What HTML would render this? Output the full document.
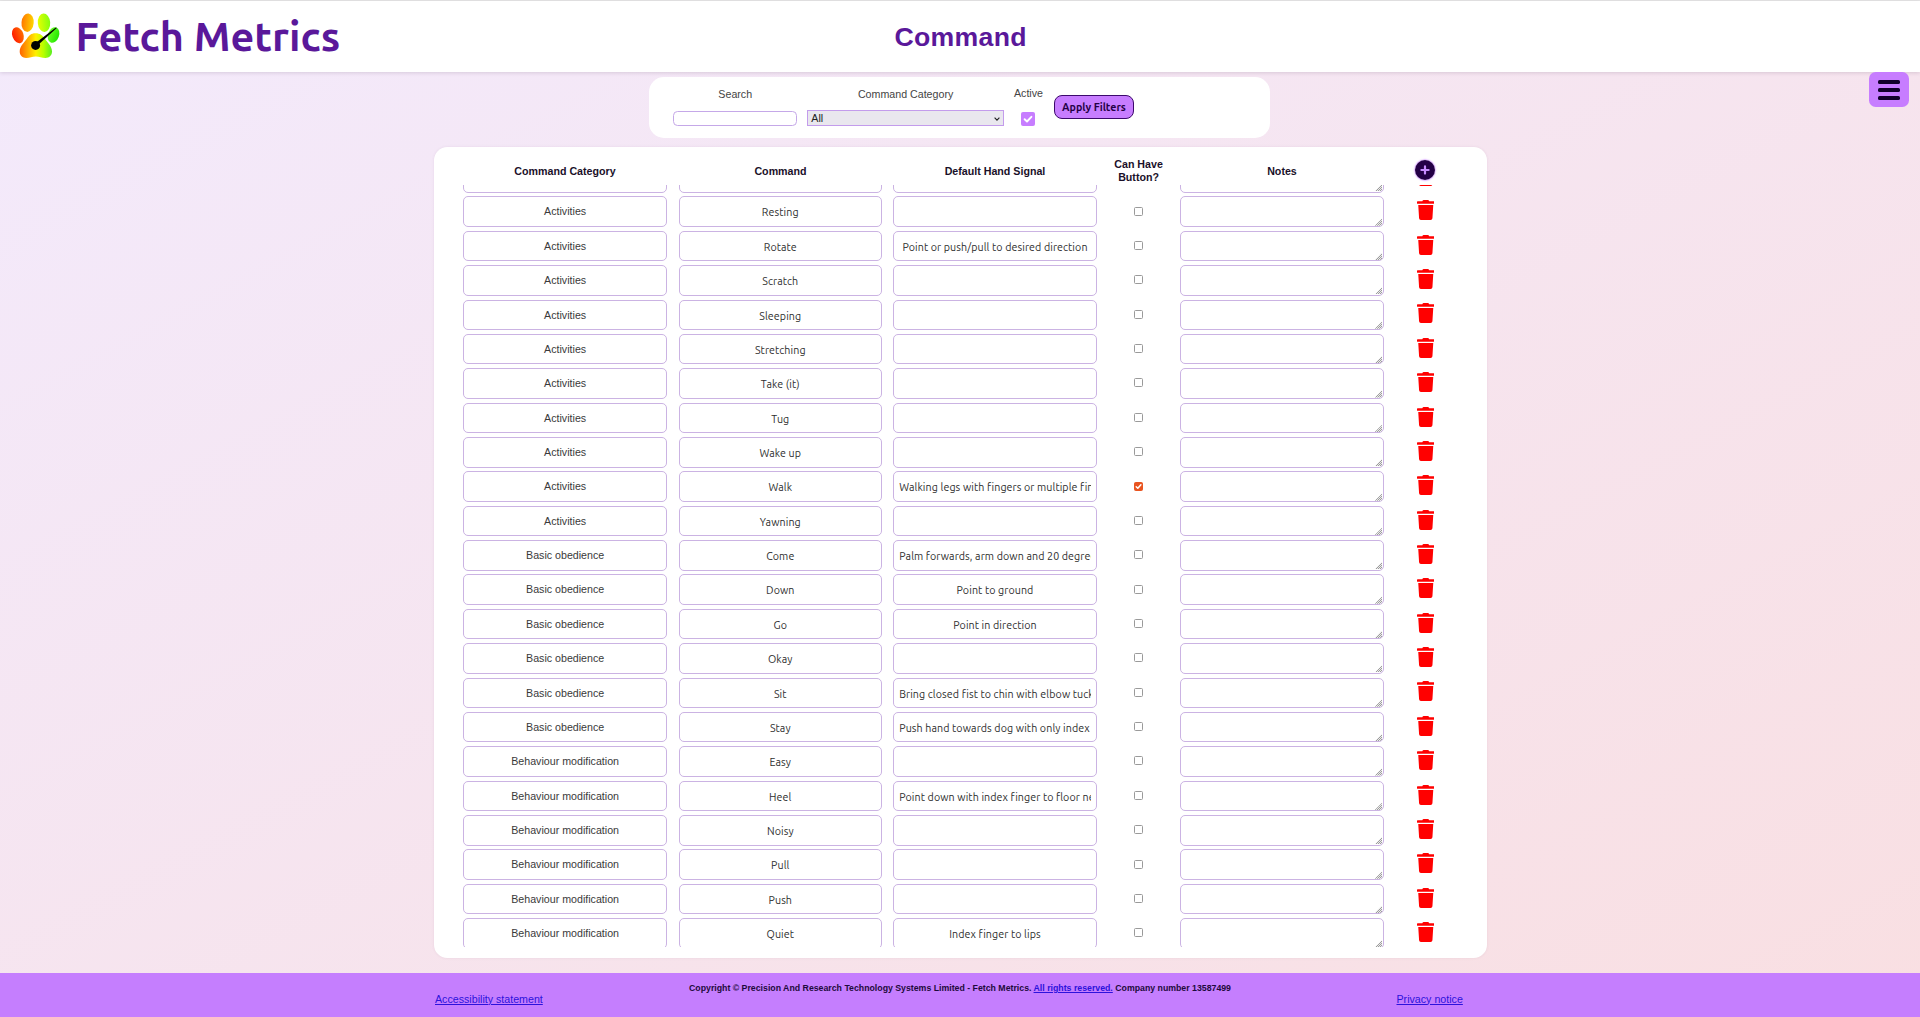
<!DOCTYPE html>
<html lang="en"><head><meta charset="utf-8"><title>Command - Fetch Metrics</title>
<style>
*{box-sizing:border-box}
html,body{margin:0;padding:0}
body{width:1920px;height:1017px;overflow:hidden;position:relative;
 background:linear-gradient(to bottom right,#f3eafc,#f9dfe2);
 font-family:"Liberation Sans",Arial,sans-serif;font-size:10.67px;color:#222}
.topline{position:absolute;left:0;top:0;width:1920px;height:1px;background:#e6e6e6}
.hdr{position:absolute;left:0;top:1px;width:1920px;height:71px;background:#fff;box-shadow:0 1px 4px rgba(60,40,70,0.16)}
.logo{position:absolute;left:0;top:0}
.brand{position:absolute;left:75.6px;top:14.9px;font-family:"Ubuntu","Liberation Sans",sans-serif;font-weight:700;font-size:41.3px;line-height:41.3px;color:#5a189a;white-space:nowrap}
.title{position:absolute;left:760.5px;width:400px;text-align:center;top:22.6px;font-family:"Liberation Sans",Arial,sans-serif;font-weight:700;font-size:26.67px;line-height:26.67px;letter-spacing:0.3px;text-indent:0.3px;color:#5a189a}
.burger{position:absolute;left:1869.2px;top:72.1px;width:39.8px;height:34.8px;border-radius:6.7px;background:#c77dff}
.burger i{position:absolute;left:8.8px;width:22.2px;height:3.2px;border-radius:1.6px;background:#10002b}
.fpanel{position:absolute;left:648.8px;top:77.4px;width:621.2px;height:60.8px;border-radius:15px;background:#fff}
.flbl{position:absolute;top:0;text-align:center;font-size:10.67px;line-height:12px;color:#444;white-space:nowrap}
.finput{position:absolute;border:1px solid #c5a8e8;border-radius:4.5px;background:#fff}
.fsel{position:absolute;border:1px solid #c39cec;background:#e9e7ee;font-size:10.67px;color:#222}
.fchk{position:absolute;width:14px;height:14px;border-radius:2px;background:#c77dff}
.fbtn{position:absolute;border:1px solid #3c096c;border-radius:8px;background:#c77dff;color:#240046;font-family:"Ubuntu","Liberation Sans",sans-serif;font-weight:700;font-size:10.67px;text-align:center}
.card{position:absolute;left:433.7px;top:147px;width:1053.2px;height:810.8px;border-radius:13.33px;background:#fff;box-shadow:0 0 3px rgba(120,80,120,0.10)}
.th{position:absolute;text-align:center;font-weight:700;font-size:10.67px;line-height:12.26px;color:#1a1029;white-space:nowrap}
.plus{position:absolute;left:981.7px;top:12.8px;width:20px;height:20px;border-radius:50%;box-shadow:0 0 1.5px 0.5px #c77dff}
.plus svg{display:block}
.clip{position:absolute;left:0;width:100%;overflow:hidden}
.bx{position:absolute;height:30.6px;border:1px solid #cbb3e3;border-radius:5px;background:#fff;text-align:center;font-size:10.67px;line-height:28px;color:#3a3a3a;white-space:nowrap;overflow:hidden}
.ub{font-family:"Ubuntu","Liberation Sans",sans-serif;color:#2e2e2e}
.in{position:absolute;left:4.9px;right:4.9px;top:0;bottom:0;overflow:hidden;line-height:28.6px}
.ub .in{line-height:31.4px;letter-spacing:0.1px}
.ta i{position:absolute;right:0.5px;bottom:0.3px;width:7.5px;height:7.5px;background:repeating-conic-gradient(#9c9c9c 0 25%,#ececec 0 50%) 0 0/2px 2px;clip-path:polygon(100% 0,100% 100%,0 100%)}
.cb{position:absolute;width:9px;height:9px;border:1px solid #9a9a9a;border-radius:1.5px;background:#fff}
.cb.on{background:#e95420;border-color:#e95420}
.tr{position:absolute;line-height:0}
.tr svg{display:block}
.ftr{position:absolute;left:0;top:973px;width:1920px;height:44px;background:#c57efe}
.ftr a{position:absolute;color:#2d12dc;text-decoration:underline;font-size:10.67px;white-space:nowrap}
.copy{position:absolute;font-weight:700;font-size:8.76px;color:#1e0a3c;white-space:nowrap}
.copy a{position:static;font-size:8.76px}

</style></head>
<body>
<div class="topline"></div>
<div class="hdr">
<svg class="logo" width="72" height="70" viewBox="0 -0.2 72 70" style="top:-1px">
<defs>
<linearGradient id="g1"><stop offset="0" stop-color="#ff1a00"/><stop offset="1" stop-color="#ff6c00"/></linearGradient>
<linearGradient id="g2"><stop offset="0" stop-color="#ff7800"/><stop offset="1" stop-color="#ffd600"/></linearGradient>
<linearGradient id="g3"><stop offset="0" stop-color="#e6ff00"/><stop offset="1" stop-color="#84ff10"/></linearGradient>
<linearGradient id="g4"><stop offset="0" stop-color="#6cff24"/><stop offset="1" stop-color="#22e600"/></linearGradient>
<linearGradient id="g5"><stop offset="0" stop-color="#ff6400"/><stop offset="0.5" stop-color="#fff000"/><stop offset="0.74" stop-color="#b6ff00"/><stop offset="1" stop-color="#58ee20"/></linearGradient>
</defs>
<ellipse cx="17.9" cy="35" rx="5.6" ry="8.2" transform="rotate(-20 17.9 35)" fill="url(#g1)"/>
<ellipse cx="27.6" cy="22.5" rx="6.1" ry="9.2" transform="rotate(5 27.6 22.5)" fill="url(#g2)"/>
<ellipse cx="44.0" cy="22.5" rx="6.2" ry="9.2" transform="rotate(-4 44.0 22.5)" fill="url(#g3)"/>
<ellipse cx="53.5" cy="34.8" rx="5.5" ry="8.1" transform="rotate(20 53.5 34.8)" fill="url(#g4)"/>
<path fill="url(#g5)" d="M35.5 33.1C40 33.1 42.5 35.2 44.8 38.6C47.3 42.2 52 46 52 51.4C52 55.5 49 57.8 45.5 57.8C41.6 57.8 39.5 56.3 35.8 56.3C32 56.3 30 57.8 26.1 57.8C22.6 57.8 19.7 55.5 19.7 51.4C19.7 46 24.4 42.2 26.9 38.6C29.2 35.2 31 33.1 35.5 33.1Z"/>
<path d="M34.3 43.8L55.9 27.4Q56.7 27.1 56.5 28.0L36.4 46.2Z" fill="#000"/>
<circle cx="35.6" cy="45.2" r="4.5" fill="#000"/>
</svg>
<div class="brand">Fetch Metrics</div>
<div class="title">Command</div>
</div>
<div class="burger"><i style="top:8.3px"></i><i style="top:16.3px"></i><i style="top:24.3px"></i></div>
<div class="fpanel">
<div class="flbl" style="left:36.45px;width:100px;top:10.3px">Search</div>
<div class="flbl" style="left:206.8px;width:100px;top:10.3px">Command Category</div>
<div class="flbl" style="left:349.7px;width:60px;top:9.6px">Active</div>
<div class="finput" style="left:24.5px;top:33.6px;width:123.4px;height:14.6px"></div>
<div class="fsel" style="left:158.5px;top:32.9px;width:196.4px;height:16px"><span style="position:absolute;left:3px;top:1px;line-height:12px">All</span><svg style="position:absolute;right:2.6px;top:5.4px" width="6" height="4" viewBox="0 0 6 4"><path d="M0.6 0.7L3 3.1L5.4 0.7" stroke="#222" stroke-width="1.15" fill="none"/></svg></div>
<div class="fchk" style="left:372.5px;top:34.5px"><svg width="14" height="14" viewBox="0 0 14 14" style="display:block"><path d="M3.6 7.2L6 9.5L10.4 4.8" stroke="#fff" stroke-width="1.9" fill="none" stroke-linecap="round" stroke-linejoin="round"/></svg></div>
<div class="fbtn" style="left:405.4px;top:17.4px;width:79.6px;height:23.9px;line-height:23.2px">Apply Filters</div>
</div>

<div class="card">
<div class="th" style="left:71.30000000000001px;width:120px;top:18px">Command Category</div>
<div class="th" style="left:286.8px;width:120px;top:18px">Command</div>
<div class="th" style="left:501.29999999999995px;width:120px;top:18px">Default Hand Signal</div>
<div class="th" style="left:664.8999999999999px;width:80px;top:11.2px;line-height:12.8px">Can Have<br>Button?</div>
<div class="th" style="left:788.3px;width:120px;top:18px">Notes</div>
<div class="plus"><svg viewBox="0 0 20 20" width="20" height="20"><circle cx="10" cy="10" r="10" fill="#240046"/><path d="M10 6.4v7.2M6.4 10h7.2" stroke="#c98cff" stroke-width="2.2" stroke-linecap="round"/></svg></div>
<div class="clip" style="top:38px;height:762px">
<div class="bx cat" style="top:-22.97px;left:29.63px;width:203.67px"><div class="in">Activities</div></div>
<div class="bx ub" style="top:-22.97px;left:245.10px;width:203.00px"><div class="in">Play</div></div>
<div class="bx ub hs" style="top:-22.97px;left:459.60px;width:203.40px"><div class="in"></div></div>
<div class="cb" style="top:-12.77px;left:700.40px"></div>
<div class="bx ta" style="top:-22.97px;left:746.70px;width:203.30px"><i></i></div>
<div class="tr" style="top:-19.07px;left:983.10px"><svg viewBox="0 0 448 512" width="17.5" height="20"><path fill="#ff0000" d="M432 32H312l-9.4-18.7A24 24 0 0 0 281.1 0H166.8a23.72 23.72 0 0 0-21.4 13.3L136 32H16A16 16 0 0 0 0 48v32a16 16 0 0 0 16 16h416a16 16 0 0 0 16-16V48a16 16 0 0 0-16-16zM53.2 467a48 48 0 0 0 47.9 45h245.8a48 48 0 0 0 47.9-45L416 128H32z"/></svg></div>
<div class="bx cat" style="top:11.40px;left:29.63px;width:203.67px"><div class="in">Activities</div></div>
<div class="bx ub" style="top:11.40px;left:245.10px;width:203.00px"><div class="in">Resting</div></div>
<div class="bx ub hs" style="top:11.40px;left:459.60px;width:203.40px"><div class="in"></div></div>
<div class="cb" style="top:21.60px;left:700.40px"></div>
<div class="bx ta" style="top:11.40px;left:746.70px;width:203.30px"><i></i></div>
<div class="tr" style="top:15.30px;left:983.10px"><svg viewBox="0 0 448 512" width="17.5" height="20"><path fill="#ff0000" d="M432 32H312l-9.4-18.7A24 24 0 0 0 281.1 0H166.8a23.72 23.72 0 0 0-21.4 13.3L136 32H16A16 16 0 0 0 0 48v32a16 16 0 0 0 16 16h416a16 16 0 0 0 16-16V48a16 16 0 0 0-16-16zM53.2 467a48 48 0 0 0 47.9 45h245.8a48 48 0 0 0 47.9-45L416 128H32z"/></svg></div>
<div class="bx cat" style="top:45.77px;left:29.63px;width:203.67px"><div class="in">Activities</div></div>
<div class="bx ub" style="top:45.77px;left:245.10px;width:203.00px"><div class="in">Rotate</div></div>
<div class="bx ub hs" style="top:45.77px;left:459.60px;width:203.40px"><div class="in">Point or push/pull to desired direction</div></div>
<div class="cb" style="top:55.97px;left:700.40px"></div>
<div class="bx ta" style="top:45.77px;left:746.70px;width:203.30px"><i></i></div>
<div class="tr" style="top:49.67px;left:983.10px"><svg viewBox="0 0 448 512" width="17.5" height="20"><path fill="#ff0000" d="M432 32H312l-9.4-18.7A24 24 0 0 0 281.1 0H166.8a23.72 23.72 0 0 0-21.4 13.3L136 32H16A16 16 0 0 0 0 48v32a16 16 0 0 0 16 16h416a16 16 0 0 0 16-16V48a16 16 0 0 0-16-16zM53.2 467a48 48 0 0 0 47.9 45h245.8a48 48 0 0 0 47.9-45L416 128H32z"/></svg></div>
<div class="bx cat" style="top:80.13px;left:29.63px;width:203.67px"><div class="in">Activities</div></div>
<div class="bx ub" style="top:80.13px;left:245.10px;width:203.00px"><div class="in">Scratch</div></div>
<div class="bx ub hs" style="top:80.13px;left:459.60px;width:203.40px"><div class="in"></div></div>
<div class="cb" style="top:90.33px;left:700.40px"></div>
<div class="bx ta" style="top:80.13px;left:746.70px;width:203.30px"><i></i></div>
<div class="tr" style="top:84.03px;left:983.10px"><svg viewBox="0 0 448 512" width="17.5" height="20"><path fill="#ff0000" d="M432 32H312l-9.4-18.7A24 24 0 0 0 281.1 0H166.8a23.72 23.72 0 0 0-21.4 13.3L136 32H16A16 16 0 0 0 0 48v32a16 16 0 0 0 16 16h416a16 16 0 0 0 16-16V48a16 16 0 0 0-16-16zM53.2 467a48 48 0 0 0 47.9 45h245.8a48 48 0 0 0 47.9-45L416 128H32z"/></svg></div>
<div class="bx cat" style="top:114.50px;left:29.63px;width:203.67px"><div class="in">Activities</div></div>
<div class="bx ub" style="top:114.50px;left:245.10px;width:203.00px"><div class="in">Sleeping</div></div>
<div class="bx ub hs" style="top:114.50px;left:459.60px;width:203.40px"><div class="in"></div></div>
<div class="cb" style="top:124.70px;left:700.40px"></div>
<div class="bx ta" style="top:114.50px;left:746.70px;width:203.30px"><i></i></div>
<div class="tr" style="top:118.40px;left:983.10px"><svg viewBox="0 0 448 512" width="17.5" height="20"><path fill="#ff0000" d="M432 32H312l-9.4-18.7A24 24 0 0 0 281.1 0H166.8a23.72 23.72 0 0 0-21.4 13.3L136 32H16A16 16 0 0 0 0 48v32a16 16 0 0 0 16 16h416a16 16 0 0 0 16-16V48a16 16 0 0 0-16-16zM53.2 467a48 48 0 0 0 47.9 45h245.8a48 48 0 0 0 47.9-45L416 128H32z"/></svg></div>
<div class="bx cat" style="top:148.86px;left:29.63px;width:203.67px"><div class="in">Activities</div></div>
<div class="bx ub" style="top:148.86px;left:245.10px;width:203.00px"><div class="in">Stretching</div></div>
<div class="bx ub hs" style="top:148.86px;left:459.60px;width:203.40px"><div class="in"></div></div>
<div class="cb" style="top:159.06px;left:700.40px"></div>
<div class="bx ta" style="top:148.86px;left:746.70px;width:203.30px"><i></i></div>
<div class="tr" style="top:152.76px;left:983.10px"><svg viewBox="0 0 448 512" width="17.5" height="20"><path fill="#ff0000" d="M432 32H312l-9.4-18.7A24 24 0 0 0 281.1 0H166.8a23.72 23.72 0 0 0-21.4 13.3L136 32H16A16 16 0 0 0 0 48v32a16 16 0 0 0 16 16h416a16 16 0 0 0 16-16V48a16 16 0 0 0-16-16zM53.2 467a48 48 0 0 0 47.9 45h245.8a48 48 0 0 0 47.9-45L416 128H32z"/></svg></div>
<div class="bx cat" style="top:183.23px;left:29.63px;width:203.67px"><div class="in">Activities</div></div>
<div class="bx ub" style="top:183.23px;left:245.10px;width:203.00px"><div class="in">Take (it)</div></div>
<div class="bx ub hs" style="top:183.23px;left:459.60px;width:203.40px"><div class="in"></div></div>
<div class="cb" style="top:193.43px;left:700.40px"></div>
<div class="bx ta" style="top:183.23px;left:746.70px;width:203.30px"><i></i></div>
<div class="tr" style="top:187.13px;left:983.10px"><svg viewBox="0 0 448 512" width="17.5" height="20"><path fill="#ff0000" d="M432 32H312l-9.4-18.7A24 24 0 0 0 281.1 0H166.8a23.72 23.72 0 0 0-21.4 13.3L136 32H16A16 16 0 0 0 0 48v32a16 16 0 0 0 16 16h416a16 16 0 0 0 16-16V48a16 16 0 0 0-16-16zM53.2 467a48 48 0 0 0 47.9 45h245.8a48 48 0 0 0 47.9-45L416 128H32z"/></svg></div>
<div class="bx cat" style="top:217.60px;left:29.63px;width:203.67px"><div class="in">Activities</div></div>
<div class="bx ub" style="top:217.60px;left:245.10px;width:203.00px"><div class="in">Tug</div></div>
<div class="bx ub hs" style="top:217.60px;left:459.60px;width:203.40px"><div class="in"></div></div>
<div class="cb" style="top:227.80px;left:700.40px"></div>
<div class="bx ta" style="top:217.60px;left:746.70px;width:203.30px"><i></i></div>
<div class="tr" style="top:221.50px;left:983.10px"><svg viewBox="0 0 448 512" width="17.5" height="20"><path fill="#ff0000" d="M432 32H312l-9.4-18.7A24 24 0 0 0 281.1 0H166.8a23.72 23.72 0 0 0-21.4 13.3L136 32H16A16 16 0 0 0 0 48v32a16 16 0 0 0 16 16h416a16 16 0 0 0 16-16V48a16 16 0 0 0-16-16zM53.2 467a48 48 0 0 0 47.9 45h245.8a48 48 0 0 0 47.9-45L416 128H32z"/></svg></div>
<div class="bx cat" style="top:251.96px;left:29.63px;width:203.67px"><div class="in">Activities</div></div>
<div class="bx ub" style="top:251.96px;left:245.10px;width:203.00px"><div class="in">Wake up</div></div>
<div class="bx ub hs" style="top:251.96px;left:459.60px;width:203.40px"><div class="in"></div></div>
<div class="cb" style="top:262.16px;left:700.40px"></div>
<div class="bx ta" style="top:251.96px;left:746.70px;width:203.30px"><i></i></div>
<div class="tr" style="top:255.86px;left:983.10px"><svg viewBox="0 0 448 512" width="17.5" height="20"><path fill="#ff0000" d="M432 32H312l-9.4-18.7A24 24 0 0 0 281.1 0H166.8a23.72 23.72 0 0 0-21.4 13.3L136 32H16A16 16 0 0 0 0 48v32a16 16 0 0 0 16 16h416a16 16 0 0 0 16-16V48a16 16 0 0 0-16-16zM53.2 467a48 48 0 0 0 47.9 45h245.8a48 48 0 0 0 47.9-45L416 128H32z"/></svg></div>
<div class="bx cat" style="top:286.33px;left:29.63px;width:203.67px"><div class="in">Activities</div></div>
<div class="bx ub" style="top:286.33px;left:245.10px;width:203.00px"><div class="in">Walk</div></div>
<div class="bx ub hs" style="top:286.33px;left:459.60px;width:203.40px"><div class="in">Walking legs with fingers or multiple fingers</div></div>
<div class="cb on" style="top:296.53px;left:700.40px"><svg width="9" height="9" viewBox="0 0 9 9" style="position:absolute;left:-1px;top:-1px"><path d="M2.2 4.7L3.8 6.3L6.9 2.7" stroke="#fff" stroke-width="1.5" fill="none" stroke-linecap="round" stroke-linejoin="round"/></svg></div>
<div class="bx ta" style="top:286.33px;left:746.70px;width:203.30px"><i></i></div>
<div class="tr" style="top:290.23px;left:983.10px"><svg viewBox="0 0 448 512" width="17.5" height="20"><path fill="#ff0000" d="M432 32H312l-9.4-18.7A24 24 0 0 0 281.1 0H166.8a23.72 23.72 0 0 0-21.4 13.3L136 32H16A16 16 0 0 0 0 48v32a16 16 0 0 0 16 16h416a16 16 0 0 0 16-16V48a16 16 0 0 0-16-16zM53.2 467a48 48 0 0 0 47.9 45h245.8a48 48 0 0 0 47.9-45L416 128H32z"/></svg></div>
<div class="bx cat" style="top:320.69px;left:29.63px;width:203.67px"><div class="in">Activities</div></div>
<div class="bx ub" style="top:320.69px;left:245.10px;width:203.00px"><div class="in">Yawning</div></div>
<div class="bx ub hs" style="top:320.69px;left:459.60px;width:203.40px"><div class="in"></div></div>
<div class="cb" style="top:330.89px;left:700.40px"></div>
<div class="bx ta" style="top:320.69px;left:746.70px;width:203.30px"><i></i></div>
<div class="tr" style="top:324.59px;left:983.10px"><svg viewBox="0 0 448 512" width="17.5" height="20"><path fill="#ff0000" d="M432 32H312l-9.4-18.7A24 24 0 0 0 281.1 0H166.8a23.72 23.72 0 0 0-21.4 13.3L136 32H16A16 16 0 0 0 0 48v32a16 16 0 0 0 16 16h416a16 16 0 0 0 16-16V48a16 16 0 0 0-16-16zM53.2 467a48 48 0 0 0 47.9 45h245.8a48 48 0 0 0 47.9-45L416 128H32z"/></svg></div>
<div class="bx cat" style="top:355.06px;left:29.63px;width:203.67px"><div class="in">Basic obedience</div></div>
<div class="bx ub" style="top:355.06px;left:245.10px;width:203.00px"><div class="in">Come</div></div>
<div class="bx ub hs" style="top:355.06px;left:459.60px;width:203.40px"><div class="in">Palm forwards, arm down and 20 degrees out</div></div>
<div class="cb" style="top:365.26px;left:700.40px"></div>
<div class="bx ta" style="top:355.06px;left:746.70px;width:203.30px"><i></i></div>
<div class="tr" style="top:358.96px;left:983.10px"><svg viewBox="0 0 448 512" width="17.5" height="20"><path fill="#ff0000" d="M432 32H312l-9.4-18.7A24 24 0 0 0 281.1 0H166.8a23.72 23.72 0 0 0-21.4 13.3L136 32H16A16 16 0 0 0 0 48v32a16 16 0 0 0 16 16h416a16 16 0 0 0 16-16V48a16 16 0 0 0-16-16zM53.2 467a48 48 0 0 0 47.9 45h245.8a48 48 0 0 0 47.9-45L416 128H32z"/></svg></div>
<div class="bx cat" style="top:389.43px;left:29.63px;width:203.67px"><div class="in">Basic obedience</div></div>
<div class="bx ub" style="top:389.43px;left:245.10px;width:203.00px"><div class="in">Down</div></div>
<div class="bx ub hs" style="top:389.43px;left:459.60px;width:203.40px"><div class="in">Point to ground</div></div>
<div class="cb" style="top:399.63px;left:700.40px"></div>
<div class="bx ta" style="top:389.43px;left:746.70px;width:203.30px"><i></i></div>
<div class="tr" style="top:393.33px;left:983.10px"><svg viewBox="0 0 448 512" width="17.5" height="20"><path fill="#ff0000" d="M432 32H312l-9.4-18.7A24 24 0 0 0 281.1 0H166.8a23.72 23.72 0 0 0-21.4 13.3L136 32H16A16 16 0 0 0 0 48v32a16 16 0 0 0 16 16h416a16 16 0 0 0 16-16V48a16 16 0 0 0-16-16zM53.2 467a48 48 0 0 0 47.9 45h245.8a48 48 0 0 0 47.9-45L416 128H32z"/></svg></div>
<div class="bx cat" style="top:423.79px;left:29.63px;width:203.67px"><div class="in">Basic obedience</div></div>
<div class="bx ub" style="top:423.79px;left:245.10px;width:203.00px"><div class="in">Go</div></div>
<div class="bx ub hs" style="top:423.79px;left:459.60px;width:203.40px"><div class="in">Point in direction</div></div>
<div class="cb" style="top:433.99px;left:700.40px"></div>
<div class="bx ta" style="top:423.79px;left:746.70px;width:203.30px"><i></i></div>
<div class="tr" style="top:427.69px;left:983.10px"><svg viewBox="0 0 448 512" width="17.5" height="20"><path fill="#ff0000" d="M432 32H312l-9.4-18.7A24 24 0 0 0 281.1 0H166.8a23.72 23.72 0 0 0-21.4 13.3L136 32H16A16 16 0 0 0 0 48v32a16 16 0 0 0 16 16h416a16 16 0 0 0 16-16V48a16 16 0 0 0-16-16zM53.2 467a48 48 0 0 0 47.9 45h245.8a48 48 0 0 0 47.9-45L416 128H32z"/></svg></div>
<div class="bx cat" style="top:458.16px;left:29.63px;width:203.67px"><div class="in">Basic obedience</div></div>
<div class="bx ub" style="top:458.16px;left:245.10px;width:203.00px"><div class="in">Okay</div></div>
<div class="bx ub hs" style="top:458.16px;left:459.60px;width:203.40px"><div class="in"></div></div>
<div class="cb" style="top:468.36px;left:700.40px"></div>
<div class="bx ta" style="top:458.16px;left:746.70px;width:203.30px"><i></i></div>
<div class="tr" style="top:462.06px;left:983.10px"><svg viewBox="0 0 448 512" width="17.5" height="20"><path fill="#ff0000" d="M432 32H312l-9.4-18.7A24 24 0 0 0 281.1 0H166.8a23.72 23.72 0 0 0-21.4 13.3L136 32H16A16 16 0 0 0 0 48v32a16 16 0 0 0 16 16h416a16 16 0 0 0 16-16V48a16 16 0 0 0-16-16zM53.2 467a48 48 0 0 0 47.9 45h245.8a48 48 0 0 0 47.9-45L416 128H32z"/></svg></div>
<div class="bx cat" style="top:492.52px;left:29.63px;width:203.67px"><div class="in">Basic obedience</div></div>
<div class="bx ub" style="top:492.52px;left:245.10px;width:203.00px"><div class="in">Sit</div></div>
<div class="bx ub hs" style="top:492.52px;left:459.60px;width:203.40px"><div class="in">Bring closed fist to chin with elbow tucked in</div></div>
<div class="cb" style="top:502.72px;left:700.40px"></div>
<div class="bx ta" style="top:492.52px;left:746.70px;width:203.30px"><i></i></div>
<div class="tr" style="top:496.42px;left:983.10px"><svg viewBox="0 0 448 512" width="17.5" height="20"><path fill="#ff0000" d="M432 32H312l-9.4-18.7A24 24 0 0 0 281.1 0H166.8a23.72 23.72 0 0 0-21.4 13.3L136 32H16A16 16 0 0 0 0 48v32a16 16 0 0 0 16 16h416a16 16 0 0 0 16-16V48a16 16 0 0 0-16-16zM53.2 467a48 48 0 0 0 47.9 45h245.8a48 48 0 0 0 47.9-45L416 128H32z"/></svg></div>
<div class="bx cat" style="top:526.89px;left:29.63px;width:203.67px"><div class="in">Basic obedience</div></div>
<div class="bx ub" style="top:526.89px;left:245.10px;width:203.00px"><div class="in">Stay</div></div>
<div class="bx ub hs" style="top:526.89px;left:459.60px;width:203.40px"><div class="in">Push hand towards dog with only index finger up</div></div>
<div class="cb" style="top:537.09px;left:700.40px"></div>
<div class="bx ta" style="top:526.89px;left:746.70px;width:203.30px"><i></i></div>
<div class="tr" style="top:530.79px;left:983.10px"><svg viewBox="0 0 448 512" width="17.5" height="20"><path fill="#ff0000" d="M432 32H312l-9.4-18.7A24 24 0 0 0 281.1 0H166.8a23.72 23.72 0 0 0-21.4 13.3L136 32H16A16 16 0 0 0 0 48v32a16 16 0 0 0 16 16h416a16 16 0 0 0 16-16V48a16 16 0 0 0-16-16zM53.2 467a48 48 0 0 0 47.9 45h245.8a48 48 0 0 0 47.9-45L416 128H32z"/></svg></div>
<div class="bx cat" style="top:561.26px;left:29.63px;width:203.67px"><div class="in">Behaviour modification</div></div>
<div class="bx ub" style="top:561.26px;left:245.10px;width:203.00px"><div class="in">Easy</div></div>
<div class="bx ub hs" style="top:561.26px;left:459.60px;width:203.40px"><div class="in"></div></div>
<div class="cb" style="top:571.46px;left:700.40px"></div>
<div class="bx ta" style="top:561.26px;left:746.70px;width:203.30px"><i></i></div>
<div class="tr" style="top:565.16px;left:983.10px"><svg viewBox="0 0 448 512" width="17.5" height="20"><path fill="#ff0000" d="M432 32H312l-9.4-18.7A24 24 0 0 0 281.1 0H166.8a23.72 23.72 0 0 0-21.4 13.3L136 32H16A16 16 0 0 0 0 48v32a16 16 0 0 0 16 16h416a16 16 0 0 0 16-16V48a16 16 0 0 0-16-16zM53.2 467a48 48 0 0 0 47.9 45h245.8a48 48 0 0 0 47.9-45L416 128H32z"/></svg></div>
<div class="bx cat" style="top:595.62px;left:29.63px;width:203.67px"><div class="in">Behaviour modification</div></div>
<div class="bx ub" style="top:595.62px;left:245.10px;width:203.00px"><div class="in">Heel</div></div>
<div class="bx ub hs" style="top:595.62px;left:459.60px;width:203.40px"><div class="in">Point down with index finger to floor next to leg</div></div>
<div class="cb" style="top:605.82px;left:700.40px"></div>
<div class="bx ta" style="top:595.62px;left:746.70px;width:203.30px"><i></i></div>
<div class="tr" style="top:599.52px;left:983.10px"><svg viewBox="0 0 448 512" width="17.5" height="20"><path fill="#ff0000" d="M432 32H312l-9.4-18.7A24 24 0 0 0 281.1 0H166.8a23.72 23.72 0 0 0-21.4 13.3L136 32H16A16 16 0 0 0 0 48v32a16 16 0 0 0 16 16h416a16 16 0 0 0 16-16V48a16 16 0 0 0-16-16zM53.2 467a48 48 0 0 0 47.9 45h245.8a48 48 0 0 0 47.9-45L416 128H32z"/></svg></div>
<div class="bx cat" style="top:629.99px;left:29.63px;width:203.67px"><div class="in">Behaviour modification</div></div>
<div class="bx ub" style="top:629.99px;left:245.10px;width:203.00px"><div class="in">Noisy</div></div>
<div class="bx ub hs" style="top:629.99px;left:459.60px;width:203.40px"><div class="in"></div></div>
<div class="cb" style="top:640.19px;left:700.40px"></div>
<div class="bx ta" style="top:629.99px;left:746.70px;width:203.30px"><i></i></div>
<div class="tr" style="top:633.89px;left:983.10px"><svg viewBox="0 0 448 512" width="17.5" height="20"><path fill="#ff0000" d="M432 32H312l-9.4-18.7A24 24 0 0 0 281.1 0H166.8a23.72 23.72 0 0 0-21.4 13.3L136 32H16A16 16 0 0 0 0 48v32a16 16 0 0 0 16 16h416a16 16 0 0 0 16-16V48a16 16 0 0 0-16-16zM53.2 467a48 48 0 0 0 47.9 45h245.8a48 48 0 0 0 47.9-45L416 128H32z"/></svg></div>
<div class="bx cat" style="top:664.35px;left:29.63px;width:203.67px"><div class="in">Behaviour modification</div></div>
<div class="bx ub" style="top:664.35px;left:245.10px;width:203.00px"><div class="in">Pull</div></div>
<div class="bx ub hs" style="top:664.35px;left:459.60px;width:203.40px"><div class="in"></div></div>
<div class="cb" style="top:674.55px;left:700.40px"></div>
<div class="bx ta" style="top:664.35px;left:746.70px;width:203.30px"><i></i></div>
<div class="tr" style="top:668.25px;left:983.10px"><svg viewBox="0 0 448 512" width="17.5" height="20"><path fill="#ff0000" d="M432 32H312l-9.4-18.7A24 24 0 0 0 281.1 0H166.8a23.72 23.72 0 0 0-21.4 13.3L136 32H16A16 16 0 0 0 0 48v32a16 16 0 0 0 16 16h416a16 16 0 0 0 16-16V48a16 16 0 0 0-16-16zM53.2 467a48 48 0 0 0 47.9 45h245.8a48 48 0 0 0 47.9-45L416 128H32z"/></svg></div>
<div class="bx cat" style="top:698.72px;left:29.63px;width:203.67px"><div class="in">Behaviour modification</div></div>
<div class="bx ub" style="top:698.72px;left:245.10px;width:203.00px"><div class="in">Push</div></div>
<div class="bx ub hs" style="top:698.72px;left:459.60px;width:203.40px"><div class="in"></div></div>
<div class="cb" style="top:708.92px;left:700.40px"></div>
<div class="bx ta" style="top:698.72px;left:746.70px;width:203.30px"><i></i></div>
<div class="tr" style="top:702.62px;left:983.10px"><svg viewBox="0 0 448 512" width="17.5" height="20"><path fill="#ff0000" d="M432 32H312l-9.4-18.7A24 24 0 0 0 281.1 0H166.8a23.72 23.72 0 0 0-21.4 13.3L136 32H16A16 16 0 0 0 0 48v32a16 16 0 0 0 16 16h416a16 16 0 0 0 16-16V48a16 16 0 0 0-16-16zM53.2 467a48 48 0 0 0 47.9 45h245.8a48 48 0 0 0 47.9-45L416 128H32z"/></svg></div>
<div class="bx cat" style="top:733.09px;left:29.63px;width:203.67px"><div class="in">Behaviour modification</div></div>
<div class="bx ub" style="top:733.09px;left:245.10px;width:203.00px"><div class="in">Quiet</div></div>
<div class="bx ub hs" style="top:733.09px;left:459.60px;width:203.40px"><div class="in">Index finger to lips</div></div>
<div class="cb" style="top:743.29px;left:700.40px"></div>
<div class="bx ta" style="top:733.09px;left:746.70px;width:203.30px"><i></i></div>
<div class="tr" style="top:736.99px;left:983.10px"><svg viewBox="0 0 448 512" width="17.5" height="20"><path fill="#ff0000" d="M432 32H312l-9.4-18.7A24 24 0 0 0 281.1 0H166.8a23.72 23.72 0 0 0-21.4 13.3L136 32H16A16 16 0 0 0 0 48v32a16 16 0 0 0 16 16h416a16 16 0 0 0 16-16V48a16 16 0 0 0-16-16zM53.2 467a48 48 0 0 0 47.9 45h245.8a48 48 0 0 0 47.9-45L416 128H32z"/></svg></div>
</div>
</div>
<div class="ftr">
<a style="left:435px;top:19.6px;line-height:12px">Accessibility statement</a>
<div class="copy" style="left:689px;top:10px;line-height:10px">Copyright © Precision And Research Technology Systems Limited - Fetch Metrics. <a style="color:#2d12dc">All rights reserved.</a> Company number 13587499</div>
<a style="left:1396.5px;top:19.6px;line-height:12px">Privacy notice</a>
</div>

</body></html>
